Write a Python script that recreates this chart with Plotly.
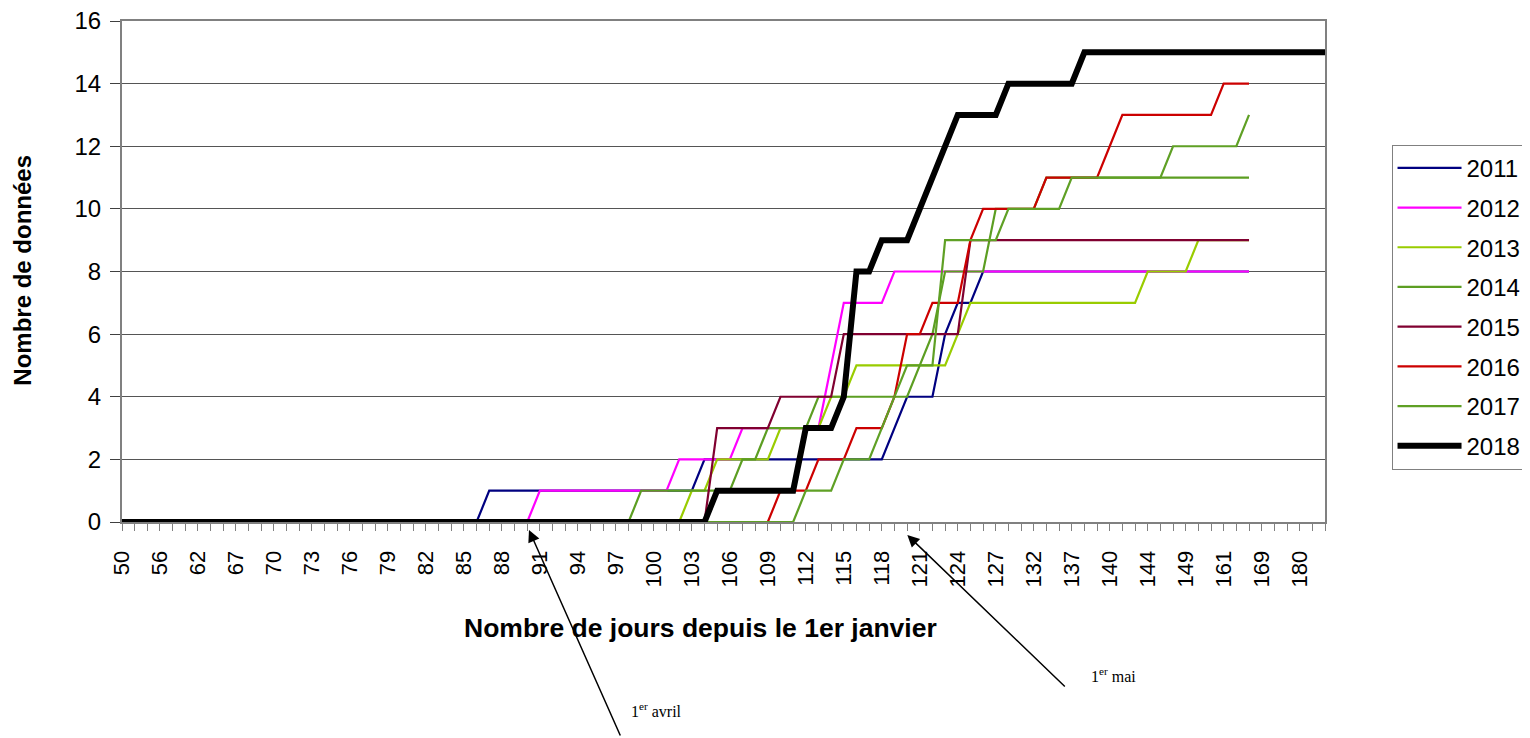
import plotly.graph_objects as go

# Category axis: day-of-year values (every third one labelled)
days = ["50", "52", "54", "56", "58", "60", "62", "64", "65", "67", "68", "69",
        "70", "71", "72", "73", "74", "75", "76", "77", "78", "79", "80", "81",
        "82", "83", "84", "85", "86", "87", "88", "89", "90", "91", "92", "93",
        "94", "95", "96", "97", "98", "99", "100", "101", "102", "103", "104", "105",
        "106", "107", "108", "109", "110", "111", "112", "113", "114", "115", "116", "117",
        "118", "119", "120", "121", "122", "123", "124", "125", "126", "127", "129", "130",
        "132", "134", "135", "137", "138", "139", "140", "141", "143", "144", "146", "147",
        "149", "153", "157", "161", "163", "166", "169", "172", "176", "180", "183", "186"]

N = None
s2011 = [0, 0, 0, 0, 0, 0, 0, 0, 0, 0, 0, 0, 0, 0, 0, 0, 0, 0, 0, 0, 0, 0, 0, 0,
         0, 0, 0, 0, 0, 1, 1, 1, 1, 1, 1, 1, 1, 1, 1, 1, 1, 1, 1, 1, 1, 1, 2, 2,
         2, 2, 2, 2, 2, 2, 2, 2, 2, 2, 2, 2, 2, 3, 4, 4, 4, 6, 7, 7, 8, 8, 8, 8,
         8, 8, 8, 8, 8, 8, 8, 8, 8, 8, 8, 8, 8, 8, 8, 8, 8, 8, N, N, N, N, N, N]
s2012 = [0, 0, 0, 0, 0, 0, 0, 0, 0, 0, 0, 0, 0, 0, 0, 0, 0, 0, 0, 0, 0, 0, 0, 0,
         0, 0, 0, 0, 0, 0, 0, 0, 0, 1, 1, 1, 1, 1, 1, 1, 1, 1, 1, 1, 2, 2, 2, 2,
         2, 3, 3, 3, 3, 3, 3, 3, 5, 7, 7, 7, 7, 8, 8, 8, 8, 8, 8, 8, 8, 8, 8, 8,
         8, 8, 8, 8, 8, 8, 8, 8, 8, 8, 8, 8, 8, 8, 8, 8, 8, 8, N, N, N, N, N, N]
s2013 = [0, 0, 0, 0, 0, 0, 0, 0, 0, 0, 0, 0, 0, 0, 0, 0, 0, 0, 0, 0, 0, 0, 0, 0,
         0, 0, 0, 0, 0, 0, 0, 0, 0, 0, 0, 0, 0, 0, 0, 0, 0, 0, 0, 0, 0, 1, 1, 2,
         2, 2, 2, 2, 3, 3, 3, 3, 4, 4, 5, 5, 5, 5, 5, 5, 5, 5, 6, 7, 7, 7, 7, 7,
         7, 7, 7, 7, 7, 7, 7, 7, 7, 8, 8, 8, 8, 9, 9, 9, 9, 9, N, N, N, N, N, N]
s2014 = [0, 0, 0, 0, 0, 0, 0, 0, 0, 0, 0, 0, 0, 0, 0, 0, 0, 0, 0, 0, 0, 0, 0, 0,
         0, 0, 0, 0, 0, 0, 0, 0, 0, 0, 0, 0, 0, 0, 0, 0, 0, 1, 1, 1, 1, 1, 1, 1,
         1, 2, 2, 3, 3, 3, 3, 4, 4, 4, 4, 4, 4, 4, 4, 5, 6, 8, 8, 8, 8, 10, 10, 10,
         10, 11, 11, 11, 11, 11, 11, 11, 11, 11, 11, 11, 11, 11, 11, 11, 11, 11, N, N, N, N, N, N]
s2015 = [0, 0, 0, 0, 0, 0, 0, 0, 0, 0, 0, 0, 0, 0, 0, 0, 0, 0, 0, 0, 0, 0, 0, 0,
         0, 0, 0, 0, 0, 0, 0, 0, 0, 0, 0, 0, 0, 0, 0, 0, 0, 0, 0, 0, 0, 0, 0, 3,
         3, 3, 3, 3, 4, 4, 4, 4, 4, 6, 6, 6, 6, 6, 6, 6, 6, 6, 6, 9, 9, 9, 9, 9,
         9, 9, 9, 9, 9, 9, 9, 9, 9, 9, 9, 9, 9, 9, 9, 9, 9, 9, N, N, N, N, N, N]
s2016 = [0, 0, 0, 0, 0, 0, 0, 0, 0, 0, 0, 0, 0, 0, 0, 0, 0, 0, 0, 0, 0, 0, 0, 0,
         0, 0, 0, 0, 0, 0, 0, 0, 0, 0, 0, 0, 0, 0, 0, 0, 0, 0, 0, 0, 0, 0, 0, 0,
         0, 0, 0, 0, 1, 1, 1, 2, 2, 2, 3, 3, 3, 4, 6, 6, 7, 7, 7, 9, 10, 10, 10, 10,
         10, 11, 11, 11, 11, 11, 12, 13, 13, 13, 13, 13, 13, 13, 13, 14, 14, 14, N, N, N, N, N, N]
s2017 = [0, 0, 0, 0, 0, 0, 0, 0, 0, 0, 0, 0, 0, 0, 0, 0, 0, 0, 0, 0, 0, 0, 0, 0,
         0, 0, 0, 0, 0, 0, 0, 0, 0, 0, 0, 0, 0, 0, 0, 0, 0, 0, 0, 0, 0, 0, 0, 0,
         0, 0, 0, 0, 0, 0, 1, 1, 1, 2, 2, 2, 3, 4, 5, 5, 5, 9, 9, 9, 9, 9, 10, 10,
         10, 10, 10, 11, 11, 11, 11, 11, 11, 11, 11, 12, 12, 12, 12, 12, 12, 13, N, N, N, N, N, N]
s2018 = [0, 0, 0, 0, 0, 0, 0, 0, 0, 0, 0, 0, 0, 0, 0, 0, 0, 0, 0, 0, 0, 0, 0, 0,
         0, 0, 0, 0, 0, 0, 0, 0, 0, 0, 0, 0, 0, 0, 0, 0, 0, 0, 0, 0, 0, 0, 0, 1,
         1, 1, 1, 1, 1, 1, 3, 3, 3, 4, 8, 8, 9, 9, 9, 10, 11, 12, 13, 13, 13, 13, 14, 14,
         14, 14, 14, 14, 15, 15, 15, 15, 15, 15, 15, 15, 15, 15, 15, 15, 15, 15, 15, 15, 15, 15, 15, 15]

years = ["2011", "2012", "2013", "2014", "2015", "2016", "2017", "2018"]
series = [s2011, s2012, s2013, s2014, s2015, s2016, s2017, s2018]
colors = ["#000080", "#FF00FF", "#99CC00", "#5C9E22", "#800030", "#CC0000", "#5FA025", "#000000"]
widths = [2.2, 2.2, 2.2, 2.2, 2.2, 2.2, 2.2, 6]

# tick labels: only every third category is labelled
shown_labels = ["50", "56", "62", "67", "70", "73", "76", "79", "82", "85", "88", "91",
                "94", "97", "100", "103", "106", "109", "112", "115", "118", "121", "124",
                "127", "132", "137", "140", "144", "149", "161", "169", "180"]

fig = go.Figure()
for yr, s, c, w in zip(years, series, colors, widths):
    fig.add_trace(go.Scatter(
        x=days, y=s, name=yr, mode="lines",
        line=dict(color=c, width=w),
        legendgroup=yr, cliponaxis=False, connectgaps=False,
    ))

FONT = "Liberation Sans, Arial, sans-serif"
fig.update_layout(
    width=1530, height=738,
    # the page adds an 8px body margin; margins compensate for it
    margin=dict(l=114, r=210, t=13, b=224),
    paper_bgcolor="white", plot_bgcolor="white",
    font=dict(family=FONT, color="black", size=22),
    showlegend=True,
    legend=dict(
        x=1.0553, y=0.753, xanchor="left", yanchor="top",
        font=dict(family=FONT, size=24, color="black"),
        bordercolor="#808080", borderwidth=1, bgcolor="white",
        traceorder="grouped", tracegroupgap=5.5, itemwidth=64,
    ),
    xaxis=dict(
        type="category", categoryorder="array", categoryarray=days,
        range=[0, len(days) - 1],
        tickmode="array", tickvals=days,
        ticktext=[d if d in shown_labels else "" for d in days],
        tickangle=-90, tickfont=dict(size=22),
        ticks="outside", ticklen=7, tickcolor="#808080", tickwidth=1,
        showline=True, linecolor="#808080", linewidth=2, mirror=True,
        showgrid=False, zeroline=False, layer="below traces",
        ticklabelstandoff=11, ticklabeloverflow="allow", automargin=False,
    ),
    yaxis=dict(
        range=[0, 16], dtick=2, tick0=0,
        tickfont=dict(size=24),
        ticks="outside", ticklen=10, tickcolor="#404040", tickwidth=1,
        showline=True, linecolor="#808080", linewidth=2, mirror=True,
        showgrid=True, gridcolor="#555555", gridwidth=1,
        zeroline=False, layer="below traces",
        ticklabelstandoff=4, ticklabeloverflow="allow", automargin=False,
    ),
)

annotations = [
    dict(text="<b>Nombre de jours depuis le 1er janvier</b>", xref="paper", yref="paper",
         x=0.481, y=-0.212, xanchor="center", yanchor="middle", showarrow=False,
         font=dict(family=FONT, size=26.5, color="black")),
    dict(text="<b>Nombre de données</b>", xref="paper", yref="paper",
         x=-0.083, y=0.502, xanchor="center", yanchor="middle", showarrow=False,
         textangle=-90, font=dict(family=FONT, size=24, color="black")),
    dict(text="1<sup>er</sup> avril", xref="paper", yref="paper",
         x=0.4444, y=-0.3745, xanchor="center", yanchor="middle", showarrow=False,
         font=dict(family="Liberation Serif, Times New Roman, serif", size=16, color="black")),
    dict(text="1<sup>er</sup> mai", xref="paper", yref="paper",
         x=0.8242, y=-0.3048, xanchor="center", yanchor="middle", showarrow=False,
         font=dict(family="Liberation Serif, Times New Roman, serif", size=16, color="black")),
    dict(text="", xref="paper", yref="paper", x=0.3383, y=-0.0159,
         showarrow=True, ax=92, ay=207, arrowhead=2, arrowsize=1.6, arrowwidth=1.5,
         arrowcolor="black", standoff=0),
    dict(text="", xref="paper", yref="paper", x=0.6528, y=-0.0259,
         showarrow=True, ax=159, ay=153, arrowhead=2, arrowsize=1.6, arrowwidth=1.5,
         arrowcolor="black", standoff=0),
]
fig.update_layout(annotations=annotations)

fig.write_html("out.html", config={"displayModeBar": False})
